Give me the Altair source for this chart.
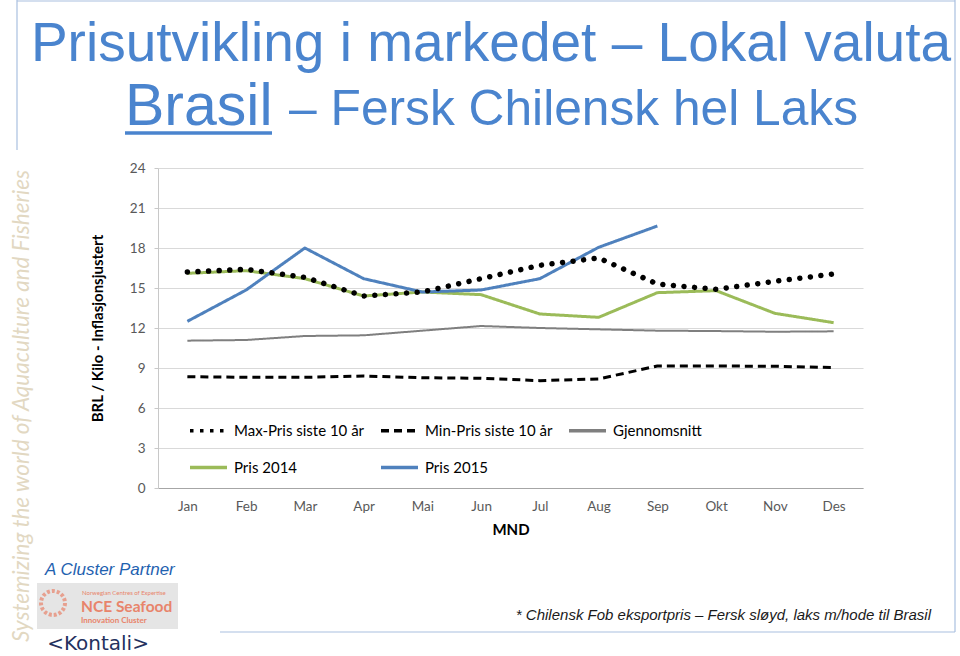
import altair as alt
import pandas as pd

months = ["Jan", "Feb", "Mar", "Apr", "Mai", "Jun", "Jul", "Aug", "Sep", "Okt", "Nov", "Des"]
max_pris = [16.2, 16.4, 15.8, 14.4, 14.7, 15.7, 16.7, 17.25, 15.3, 14.9, 15.5, 16.05]
min_pris = [8.35, 8.3, 8.3, 8.4, 8.27, 8.23, 8.05, 8.18, 9.15, 9.15, 9.13, 9.03]
snitt = [11.05, 11.1, 11.4, 11.45, 11.8, 12.15, 12.0, 11.9, 11.8, 11.77, 11.72, 11.75]
pris_2014 = [16.1, 16.3, 15.7, 14.4, 14.7, 14.5, 13.05, 12.8, 14.65, 14.8, 13.1, 12.4]
pris_2015 = [12.5, 14.85, 18.0, 15.7, 14.7, 14.85, 15.7, 18.05, 19.65]

series_names = ["Max-Pris siste 10 år", "Min-Pris siste 10 år", "Gjennomsnitt", "Pris 2014", "Pris 2015"]
series_colors = ["#000000", "#000000", "#7F7F7F", "#9BBB59", "#4F81BD"]
series_dashes = [[3.5, 6.5], [8, 5], [1, 0], [1, 0], [1, 0]]
y_ticks = [0, 3, 6, 9, 12, 15, 18, 21, 24]

title_line1 = "Prisutvikling i markedet \u2013 Lokal valuta"
title_line2a = "Brasil"
title_line2b = "\u2013 Fersk Chilensk hel Laks"
footnote = "* Chilensk Fob eksportpris \u2013 Fersk sl\u00f8yd, laks m/hode til Brasil"

rows = []
for name, vals in zip(series_names, [max_pris, min_pris, snitt, pris_2014, pris_2015]):
    for m, v in zip(months, vals):
        rows.append({"Måned": m, "Pris": v, "Serie": name})
df = pd.DataFrame(rows)

W, H = 705, 320
FONT = "Lato"
TITLE_BLUE = "#4A84CE"

legend = alt.Legend(
    title=None, orient="none", legendX=30, legendY=242, columns=3, direction="horizontal",
    symbolType="stroke", symbolSize=1369, symbolStrokeWidth=3.5,
    labelFont=FONT, labelFontSize=15, labelColor="#000000", labelOffset=5,
    columnPadding=9, rowPadding=8, padding=0,
)

x_enc = alt.X("Måned:N", sort=months, title="MND",
              axis=alt.Axis(labelAngle=0, ticks=False, labelPadding=11, grid=False,
                            domainColor="#A6A6A6", titlePadding=10))
y_enc = alt.Y("Pris:Q", scale=alt.Scale(domain=[0, 24], nice=False),
              title="BRL / Kilo - Inflasjonsjustert",
              axis=alt.Axis(values=y_ticks, tickSize=4, labelPadding=9, titlePadding=24,
                            gridColor="#D9D9D9", domainColor="#C8C8C8", tickColor="#C8C8C8"))
color_enc = alt.Color("Serie:N", scale=alt.Scale(domain=series_names, range=series_colors), legend=legend)
dash_enc = alt.StrokeDash("Serie:N", scale=alt.Scale(domain=series_names, range=series_dashes), legend=legend)


def series_layer(name, width, with_dash=True, **kw):
    enc = dict(x=x_enc, y=y_enc, color=color_enc)
    if with_dash:
        enc["strokeDash"] = dash_enc
    return (alt.Chart(df).transform_filter(alt.datum.Serie == name)
            .mark_line(strokeWidth=width, strokeJoin="round", **kw).encode(**enc))


one = pd.DataFrame({"t": [""]})


def deco_text(text, x, y, **kw):
    return alt.Chart(pd.DataFrame({"t": [text]})).mark_text(**kw).encode(
        x=alt.value(x), y=alt.value(y), text="t:N")


def vrule(x, y1, y2, color="#A9C0E0", w=1.2):
    return alt.Chart(one).mark_rule(color=color, strokeWidth=w).encode(
        x=alt.value(x), y=alt.value(y1), y2=alt.value(y2))


def hrule(x1, x2, y, color="#A9C0E0", w=1.2):
    return alt.Chart(one).mark_rule(color=color, strokeWidth=w).encode(
        x=alt.value(x1), x2=alt.value(x2), y=alt.value(y))


layers = [
    series_layer("Gjennomsnitt", 2),
    series_layer("Min-Pris siste 10 år", 3),
    series_layer("Pris 2014", 3),
    series_layer("Pris 2015", 3),
    series_layer("Max-Pris siste 10 år", 5.5, with_dash=False, strokeDash=[0.01, 10.6], strokeCap="round"),
    # frame
    vrule(-141, -168, -18),
    hrule(-141, 797, -167),
    vrule(797, -168, 464),
    hrule(62, 797, 464),
    # title
    deco_text(title_line1, 333, -107, align="center", baseline="alphabetic",
              font="Liberation Sans", fontSize=55, color=TITLE_BLUE),
    deco_text(title_line2a, -33, -43, align="left", baseline="alphabetic",
              font="Liberation Sans", fontSize=59, color=TITLE_BLUE),
    deco_text(title_line2b, 700, -43, align="right", baseline="alphabetic",
              font="Liberation Sans", fontSize=49.7, color=TITLE_BLUE),
    # underline of Brasil
    hrule(-33, 114, -35, color=TITLE_BLUE, w=3.5),
    # side decorations
    deco_text("Systemizing the world of Aquaculture and Fisheries", -136, 238, angle=270,
              align="center", baseline="middle", font=FONT, fontStyle="italic",
              fontSize=22.5, color="#E2D8C2"),
    deco_text("A Cluster Partner", -113, 407, align="left", baseline="alphabetic",
              font="Liberation Sans", fontStyle="italic", fontSize=17, color="#1F62B0"),
    alt.Chart(one).mark_rect(color="#E5E5E5").encode(
        x=alt.value(-121), x2=alt.value(20), y=alt.value(415), y2=alt.value(461)),
    alt.Chart(one).mark_point(shape="circle", size=576, filled=False, color="#E8846B",
                              strokeWidth=4, strokeDash=[3, 2]).encode(
        x=alt.value(-105), y=alt.value(435)),
    deco_text("Norwegian Centres of Expertise", -76, 427, align="left", baseline="alphabetic",
              font=FONT, fontSize=6, color="#E8846B"),
    deco_text("NCE Seafood", -77, 444, align="left", baseline="alphabetic",
              font=FONT, fontWeight="bold", fontSize=15.5, color="#E8846B"),
    deco_text("Innovation Cluster", -77, 455, align="left", baseline="alphabetic",
              font=FONT, fontWeight="bold", fontSize=8, color="#E8846B"),
    deco_text("<Kontali>", -60, 482, align="center", baseline="alphabetic",
              font="DejaVu Sans", fontSize=20, color="#24315E"),
    deco_text(footnote, 773, 452, align="right", baseline="alphabetic",
              font="Liberation Sans", fontStyle="italic", fontSize=15, color="#1A1A1A"),
]

chart = alt.layer(*layers).properties(
    width=W, height=H,
    autosize=alt.AutoSizeParams(type="none"),
    padding={"left": 158, "top": 168, "right": 97, "bottom": 168},
).configure_view(strokeWidth=0).configure_axis(
    labelFont=FONT, labelFontSize=13.5, labelColor="#595959",
    titleFont=FONT, titleFontSize=15, titleFontWeight="bold", titleColor="#000000",
)

chart.save("out.html", embed_options={"renderer": "svg", "actions": False})
